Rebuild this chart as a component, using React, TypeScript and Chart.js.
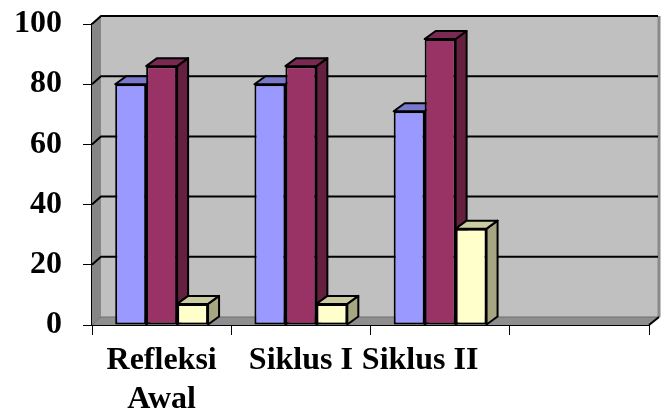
import React, { useEffect, useRef } from "react";
import { Chart, registerables } from "chart.js";

Chart.register(...registerables);

// Categories along the x axis (the fourth slot is empty)
const categories: (string | string[])[] = [["Refleksi", "Awal"], "Siklus I", "Siklus II     ", ""];

// Series values per category
const seriesBlue: (number | null)[] = [80, 80, 71, null];
const seriesMaroon: (number | null)[] = [86, 86, 95, null];
const seriesCream: (number | null)[] = [7, 7, 32, null];

// Value axis ticks
const yTicks: number[] = [0, 20, 40, 60, 80, 100];

const frontColors = ["#9999FF", "#993366", "#FFFFCC"];
const topColors = ["#7878CC", "#7A2952", "#CCCCA3"];
const sideColors = ["#6B6BB3", "#66203F", "#A6A683"];

const WALL_DX = 9;
const WALL_DY = 8;
const BAR_DX = 11;
const BAR_DY = 8;

const poly = (ctx: CanvasRenderingContext2D, pts: number[][], fill: string | null, stroke: string | null, lw = 2) => {
  ctx.beginPath();
  ctx.moveTo(pts[0][0], pts[0][1]);
  for (let i = 1; i < pts.length; i++) ctx.lineTo(pts[i][0], pts[i][1]);
  ctx.closePath();
  if (fill) {
    ctx.fillStyle = fill;
    ctx.fill();
  }
  if (stroke) {
    ctx.strokeStyle = stroke;
    ctx.lineWidth = lw;
    ctx.stroke();
  }
};

// Walls, floor, back gridlines and the depth faces of every column
const depthPlugin = {
  id: "depth3d",
  beforeDatasetsDraw(chart: any) {
    const { ctx, chartArea } = chart;
    const { left, right, top, bottom } = chartArea;
    const yScale = chart.scales.y;
    ctx.save();
    ctx.lineJoin = "round";

    // back wall
    ctx.fillStyle = "#C0C0C0";
    ctx.fillRect(left + WALL_DX, top - WALL_DY, right - left, bottom - top);
    // left side wall
    poly(ctx, [[left, top], [left + WALL_DX, top - WALL_DY], [left + WALL_DX, bottom - WALL_DY], [left, bottom]], "#868686", null);
    // floor
    poly(ctx, [[left, bottom], [right, bottom], [right + WALL_DX, bottom - WALL_DY], [left + WALL_DX, bottom - WALL_DY]], "#8E8E8E", null);
    // right edge of the back wall
    ctx.strokeStyle = "#8A8A8A";
    ctx.lineWidth = 3;
    ctx.beginPath();
    ctx.moveTo(right + WALL_DX + 1, top - WALL_DY);
    ctx.lineTo(right + WALL_DX + 1, bottom - WALL_DY);
    ctx.stroke();

    // gridlines on side wall and back wall
    yTicks.forEach((v) => {
      const yy = yScale.getPixelForValue(v);
      ctx.beginPath();
      ctx.moveTo(left, yy);
      ctx.lineTo(left + WALL_DX, yy - WALL_DY);
      ctx.lineTo(right + WALL_DX, yy - WALL_DY);
      ctx.strokeStyle = v === 0 ? "#6E6E6E" : "#000000";
      ctx.lineWidth = v === 0 ? 1 : 2;
      ctx.stroke();
    });

    // floor front-right edge
    ctx.beginPath();
    ctx.moveTo(right, bottom);
    ctx.lineTo(right + WALL_DX + 1, bottom - WALL_DY);
    ctx.strokeStyle = "#000000";
    ctx.lineWidth = 2;
    ctx.stroke();

    // column tops and sides
    chart.data.datasets.forEach((_ds: any, di: number) => {
      const meta = chart.getDatasetMeta(di);
      meta.data.forEach((el: any, i: number) => {
        const val = chart.data.datasets[di].data[i];
        if (val === null || val === undefined) return;
        const { x, y, base, width } = el.getProps(["x", "y", "base", "width"], true);
        const l = x - width / 2;
        const r = x + width / 2;
        poly(ctx, [[r, y], [r + BAR_DX, y - BAR_DY], [r + BAR_DX, base - BAR_DY], [r, base]], sideColors[di], "#000000");
        poly(ctx, [[l, y], [r, y], [r + BAR_DX, y - BAR_DY], [l + BAR_DX, y - BAR_DY]], topColors[di], "#000000");
      });
    });
    ctx.restore();
  },
};

const labelFont = {
  family: '"Liberation Serif", "Times New Roman", serif',
  size: 32,
  weight: "bold" as const,
  lineHeight: 1.2,
};

export default function App() {
  const canvasRef = useRef<HTMLCanvasElement | null>(null);

  useEffect(() => {
    if (!canvasRef.current) return;
    const makeSet = (data: (number | null)[], idx: number) => ({
      data,
      backgroundColor: frontColors[idx],
      borderColor: "#000000",
      borderWidth: 2,
      borderSkipped: false as const,
      categoryPercentage: 0.667,
      barPercentage: 1,
    });
    const chart = new Chart(canvasRef.current, {
      type: "bar",
      data: {
        labels: categories,
        datasets: [makeSet(seriesBlue, 0), makeSet(seriesMaroon, 1), makeSet(seriesCream, 2)],
      },
      options: {
        animation: false,
        responsive: true,
        maintainAspectRatio: false,
        layout: { padding: { top: 24, right: 21, left: 0, bottom: 0 } },
        plugins: { legend: { display: false }, tooltip: { enabled: false } },
        scales: {
          x: {
            offset: true,
            grid: {
              offset: true,
              drawOnChartArea: false,
              drawTicks: true,
              tickLength: 10,
              tickColor: "#000000",
              tickWidth: 1,
            },
            border: { display: true, color: "#000000", width: 2 },
            ticks: {
              autoSkip: false,
              maxRotation: 0,
              minRotation: 0,
              padding: 7,
              color: "#000000",
              font: labelFont,
            },
            afterFit: (scale: any) => {
              scale.height = 89;
              scale.paddingLeft = 0;
              scale.paddingRight = 0;
            },
          },
          y: {
            min: 0,
            max: 100,
            grid: {
              drawOnChartArea: false,
              drawTicks: true,
              tickLength: 9,
              tickColor: "#000000",
              tickWidth: 1,
            },
            border: { display: true, color: "#000000", width: 2 },
            ticks: {
              stepSize: 20,
              padding: 21,
              color: "#000000",
              font: labelFont,
            },
            afterFit: (scale: any) => {
              scale.width = 92;
              scale.paddingTop = 0;
              scale.paddingBottom = 0;
            },
          },
        },
      },
      plugins: [depthPlugin],
    });
    return () => chart.destroy();
  }, []);

  return (
    <div style={{ position: "absolute", left: 0, top: 0, width: 670, height: 414, background: "#FFFFFF" }}>
      <canvas ref={canvasRef} />
    </div>
  );
}
